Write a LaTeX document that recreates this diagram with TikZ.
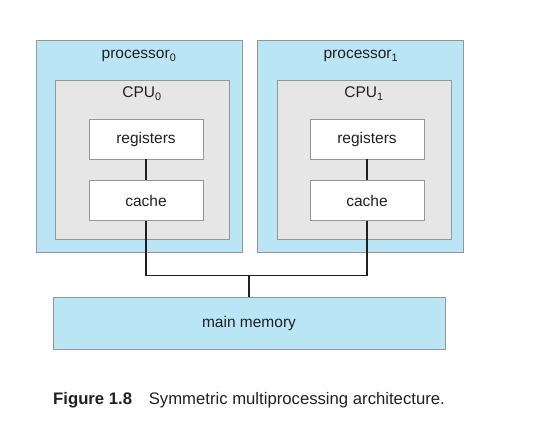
\documentclass[tikz,border=0pt]{standalone}
\usepackage{fontspec}
\setmainfont{Liberation Sans}
\usetikzlibrary{positioning}
\definecolor{procblue}{RGB}{185,229,245}
\definecolor{cpugray}{RGB}{230,230,230}
\definecolor{edgegray}{RGB}{150,150,150}
\definecolor{inkdark}{RGB}{35,31,32}

\begin{document}
\begin{tikzpicture}[
    x=1pt, y=-1pt,
    node distance=21pt and 15pt,
    procbox/.style={rectangle, draw=edgegray, line width=0.9pt, fill=procblue,
                minimum width=206pt, minimum height=212pt, inner sep=0pt},
    cpubox/.style={rectangle, draw=edgegray, line width=0.9pt, fill=cpugray,
                minimum width=174pt, minimum height=159pt, inner sep=0pt},
    unitbox/.style={rectangle, draw=edgegray, line width=0.9pt, fill=white,
                minimum width=114pt, minimum height=40pt, inner sep=0pt,
                font=\fontsize{15.5}{18}\selectfont, text=inkdark},
    tag/.style={anchor=base, inner sep=0pt, text=inkdark,
                font=\fontsize{15.5}{18}\selectfont},
    wire/.style={line width=1.6pt, draw=inkdark}
]
    \useasboundingbox (0,0) rectangle (553,430);

    \node[procbox] (proc0) at (139,146) {};
    \node[procbox] (proc1) [right=15pt of proc0] {};
    \node[cpubox] (cpu0) at (142,159.5) {};
    \node[cpubox] (cpu1) at (364,159.5) {};

    \node[tag] (ptag0) at ([yshift=-19pt]proc0.north) {processor\textsubscript{0}};
    \node[tag] (ptag1) at ([yshift=-19pt]proc1.north) {processor\textsubscript{1}};
    \node[tag] (ctag0) at ([yshift=-18pt]cpu0.north) {CPU\textsubscript{0}};
    \node[tag] (ctag1) at ([yshift=-18pt]cpu1.north) {CPU\textsubscript{1}};

    \node[unitbox] (reg0) [below=39pt of cpu0.north, xshift=4pt] {registers};
    \node[unitbox] (cache0) [below=of reg0] {cache};
    \node[unitbox] (reg1) [below=39pt of cpu1.north, xshift=3pt] {registers};
    \node[unitbox] (cache1) [below=of reg1] {cache};

    \node[unitbox, fill=procblue, minimum width=392pt, minimum height=52pt]
        (mem) at (249,323) {main memory};
    \coordinate (bus) at ([yshift=21pt]mem.north);

    \draw[wire] (reg0) -- (cache0);
    \draw[wire] (reg1) -- (cache1);
    \draw[wire] (cache0.south) |- (bus) -| (cache1.south);
    \draw[wire] (bus) -- (mem.north);

    \node[anchor=base west, inner sep=0pt, text=inkdark,
          font=\fontsize{16.7}{20}\selectfont] (caption) at (53,404)
        {\textbf{Figure 1.8}\hspace{1em}Symmetric multiprocessing architecture.};
\end{tikzpicture}
\end{document}
